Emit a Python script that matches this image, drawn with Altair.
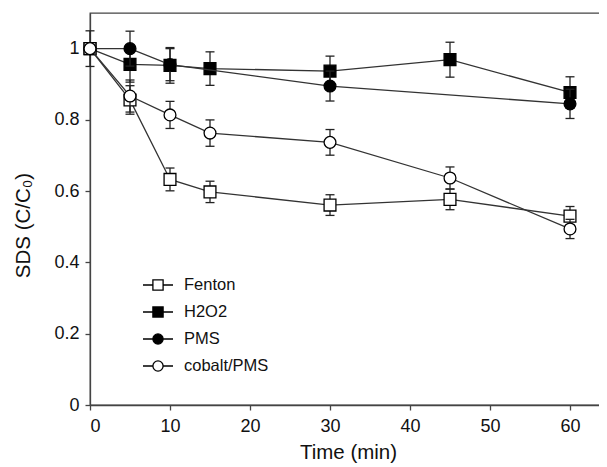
import altair as alt
import pandas as pd

series = ["Fenton", "H2O2", "PMS", "cobalt/PMS"]

time_fenton = [0, 5, 10, 15, 30, 45, 60]
fenton = [1.0, 0.856, 0.633, 0.598, 0.561, 0.577, 0.530]
fenton_err = [0.05, 0.04, 0.032, 0.03, 0.029, 0.029, 0.027]

time_h2o2 = [0, 5, 10, 15, 30, 45, 60]
h2o2 = [1.0, 0.956, 0.953, 0.944, 0.937, 0.969, 0.877]
h2o2_err = [0.0, 0.05, 0.05, 0.047, 0.042, 0.049, 0.044]

time_pms = [0, 5, 10, 30, 60]
pms = [1.0, 1.0, 0.955, 0.895, 0.845]
pms_err = [0.0, 0.049, 0.045, 0.042, 0.041]

time_cobalt = [0, 5, 10, 15, 30, 45, 60]
cobalt = [1.0, 0.867, 0.814, 0.763, 0.737, 0.637, 0.494]
cobalt_err = [0.0, 0.045, 0.038, 0.037, 0.036, 0.031, 0.027]

x_ticks = [0, 10, 20, 30, 40, 50, 60]
y_ticks = [0, 0.2, 0.4, 0.6, 0.8, 1.0]

shapes = {"Fenton": "square", "H2O2": "square", "PMS": "circle", "cobalt/PMS": "circle"}
fills = {"Fenton": "white", "H2O2": "black", "PMS": "black", "cobalt/PMS": "white"}

r = 0.34
sq_path = f"M-1,0H-{r}M{r},0H1M-{r},-{r}H{r}V{r}H-{r}Z"
ci_path = f"M-1,0H-{r}M{r},0H1M-{r},0A{r},{r},0,1,0,{r},0A{r},{r},0,1,0,-{r},0Z"

frames = []
for name, t, v, e in [("Fenton", time_fenton, fenton, fenton_err),
                      ("H2O2", time_h2o2, h2o2, h2o2_err),
                      ("PMS", time_pms, pms, pms_err),
                      ("cobalt/PMS", time_cobalt, cobalt, cobalt_err)]:
    d = pd.DataFrame({"time": t, "value": v, "err": e})
    d["series"] = name
    d["lo"] = d["value"] - d["err"]
    d["hi"] = d["value"] + d["err"]
    frames.append(d)
df = pd.concat(frames, ignore_index=True)

FONT = "Liberation Sans"
INK = "#222222"

x_scale = alt.Scale(domain=[0, 64.5], nice=False, zero=False)
y_scale = alt.Scale(domain=[0, 1.1], nice=False, zero=False)

x_enc = alt.X("time:Q", scale=x_scale,
              axis=alt.Axis(values=x_ticks, title="Time (min)", format="~g", grid=False,
                            tickSize=5, labelPadding=7, titlePadding=7))
y_enc = alt.Y("value:Q", scale=y_scale,
              axis=alt.Axis(values=y_ticks, title="SDS (C/C₀)", format="~g", grid=False,
                            tickSize=5, labelPadding=6, titlePadding=20, titleY=212))

layers = []
order = ["H2O2", "PMS", "Fenton", "cobalt/PMS"]
for name in order:
    d = df[df["series"] == name]
    de = d[d["err"] > 0]
    base = alt.Chart(d)
    ebase = alt.Chart(de)
    layers.append(ebase.mark_rule(color=INK, strokeWidth=1.3).encode(
        x=alt.X("time:Q", scale=x_scale), y=alt.Y("lo:Q", scale=y_scale), y2="hi:Q"))
    layers.append(ebase.mark_tick(orient="horizontal", size=9, thickness=1.3, color=INK, opacity=1).encode(
        x=alt.X("time:Q", scale=x_scale), y=alt.Y("lo:Q", scale=y_scale)))
    layers.append(ebase.mark_tick(orient="horizontal", size=9, thickness=1.3, color=INK, opacity=1).encode(
        x=alt.X("time:Q", scale=x_scale), y=alt.Y("hi:Q", scale=y_scale)))
    layers.append(base.mark_line(color="#333333", strokeWidth=1.3).encode(x=x_enc, y=y_enc))
    layers.append(base.mark_point(shape=shapes[name], filled=True, fill=fills[name], stroke="black",
                                  strokeWidth=1.3, size=140, opacity=1).encode(x=x_enc, y=y_enc))

legend_layer = alt.Chart(df).transform_calculate(off="-5").mark_point(
    clip=True, filled=True, strokeWidth=1.3, opacity=1, size=900
).encode(
    x=alt.X("time:Q", scale=x_scale),
    y=alt.Y("off:Q", scale=y_scale),
    shape=alt.Shape("series:N", scale=alt.Scale(domain=series, range=[sq_path, sq_path, ci_path, ci_path]),
                    legend=alt.Legend(title=None, orient="none", legendX=52, legendY=256,
                                      symbolSize=900, symbolStrokeColor="black", symbolStrokeWidth=1.3,
                                      symbolOpacity=1, labelFont=FONT, labelFontSize=16.5,
                                      labelColor="#111111", labelOffset=10, rowPadding=2, padding=0,
                                      labelExpr="datum.label == 'Fenton' ? '\u00a0Fenton' : datum.label")),
    fill=alt.Fill("series:N", scale=alt.Scale(domain=series, range=["white", "black", "black", "white"]),
                  legend=alt.Legend(title=None)),
    stroke=alt.Stroke("series:N", scale=alt.Scale(domain=series, range=["black", "black", "black", "black"]),
                      legend=alt.Legend(title=None)),
)
layers.append(legend_layer)

chart = alt.layer(*layers).properties(
    width=516, height=392,
    autosize=alt.AutoSizeParams(type="none"),
    padding={"left": 82, "top": 5, "right": -7, "bottom": 70},
).configure_view(
    stroke="#444444", strokeWidth=1.3
).configure_axis(
    labelFont=FONT, titleFont=FONT, labelFontSize=18, titleFontSize=20.5,
    labelColor="#111111", titleColor="#111111", titleFontWeight="normal",
    domainColor="#444444", tickColor="#444444", domainWidth=1.3, tickWidth=1.3
)

chart.save("out.html", embed_options={"renderer": "svg", "actions": False})
